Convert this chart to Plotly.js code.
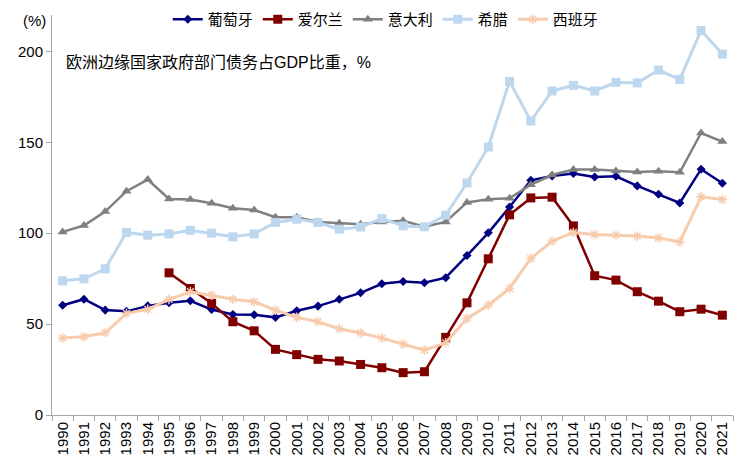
<!DOCTYPE html>
<html>
<head>
<meta charset="utf-8">
<script src="https://cdn.plot.ly/plotly-3.0.1.min.js"></script>
<style>html,body{margin:0;padding:0;background:#fff;}#chart{width:738px;height:470px;}</style>
</head>
<body>
<div id="chart"></div>
<script>
var years = ['1990','1991','1992','1993','1994','1995','1996','1997','1998','1999','2000','2001','2002','2003','2004','2005','2006','2007','2008','2009','2010','2011','2012','2013','2014','2015','2016','2017','2018','2019','2020','2021'];
var portugal = [60.4,63.7,57.7,57,60,61.7,62.8,58,55.3,55.1,53.7,57.3,59.9,63.7,67.2,72.2,73.4,72.7,75.5,87.7,100.2,114.4,129.1,131.5,132.8,130.9,131.3,126,121.4,116.6,135.2,127.5];
var ireland = [null,null,null,null,null,78.2,69.6,61.4,51.3,46.3,36.1,33.2,30.6,29.7,27.8,26,23.3,23.8,42.7,61.7,85.9,110.1,119.4,119.8,104,76.6,74.2,67.8,62.6,56.8,58.2,54.9];
var italy = [100.7,104.2,111.9,123.1,129.5,118.8,118.5,116.5,113.7,112.8,108.8,108.8,106.2,105.5,104.9,106.2,106.8,103.5,106.2,116.9,118.7,119.2,126.7,132,135,135,134.2,133.7,134.1,133.5,155.1,150.4];
var greece = [73.8,74.9,80.4,100.4,98.9,99.6,101.6,100,98,99.6,105.9,107.7,105.9,102.2,103.4,108,104,103.5,109.9,127.6,147.4,183.5,161.7,178.2,181.3,178.2,183,182.6,189.7,184.6,211.5,198.5];
var spain = [42.3,43,45.2,55.9,58.1,63.6,67.8,65.9,63.7,62.3,57.7,53.7,51.3,47.4,45.1,42.3,39,35.7,39.7,53.1,60.4,69.6,86.1,95.6,100.4,99.3,98.9,98.4,97.4,95.2,120,118.5];
var names = ['葡萄牙','爱尔兰','意大利','希腊','西班牙'];
var yTicks = [0,50,100,150,200];

var cjk = '"Liberation Sans", Arial, "Noto Sans CJK SC", sans-serif';
function tr(name, y, color, symbol, size, lw) {
  return {x: years, y: y, name: name, type: 'scatter', mode: 'lines+markers',
    line: {color: color, width: lw}, connectgaps: false,
    marker: {symbol: symbol, size: size, color: color, line: {color: color, width: symbol === 'asterisk-open' ? 1.5 : 0}}};
}
var data = [
  tr(names[0], portugal, '#000080', 'diamond', 7, 2.5),
  tr(names[1], ireland, '#800000', 'square', 9, 2.5),
  tr(names[2], italy, '#808080', 'triangle-up', 9, 2.5),
  tr(names[3], greece, '#BDD7EE', 'square', 9, 3),
  tr(names[4], spain, '#F8CBAD', 'asterisk-open', 8, 3)
];
var layout = {
  width: 738, height: 470,
  margin: {l: 52, r: 5, t: 0, b: 55},
  paper_bgcolor: '#fff', plot_bgcolor: '#fff',
  font: {family: cjk, size: 15, color: '#000'},
  showlegend: true,
  legend: {orientation: 'h', x: 0.17, xanchor: 'left', y: 0.9928, yanchor: 'top',
    font: {family: cjk, size: 15}, bgcolor: 'rgba(0,0,0,0)', itemwidth: 30, tracegroupgap: 0},
  xaxis: {type: 'category', showgrid: false, zeroline: false, showline: true, linecolor: '#A6A6A6', linewidth: 1,
    ticks: 'outside', tickson: 'boundaries', ticklen: 5, tickcolor: '#A6A6A6', tickangle: -90,
    tickfont: {family: cjk, size: 15}, range: [-0.5, 31.5], automargin: false},
  yaxis: {domain: [0, 400/415], range: [0, 220], tickvals: yTicks, showgrid: false, zeroline: false, showline: true, linecolor: '#A6A6A6', linewidth: 1,
    ticks: 'outside', ticklen: 5, tickcolor: '#A6A6A6', tickfont: {family: cjk, size: 15}, automargin: false},
  annotations: [
    {text: '(%)', xref: 'paper', yref: 'paper', x: -0.026, y: 0.9518, xanchor: 'center', yanchor: 'middle', showarrow: false, font: {family: cjk, size: 15}},
    {text: '欧洲边缘国家政府部门债务占GDP比重，%', xref: 'paper', yref: 'paper', x: 0.017, y: 0.8506, xanchor: 'left', yanchor: 'middle', showarrow: false, font: {family: cjk, size: 16}}
  ]
};
Plotly.newPlot('chart', data, layout, {displayModeBar: false, staticPlot: true});
</script>
</body>
</html>
